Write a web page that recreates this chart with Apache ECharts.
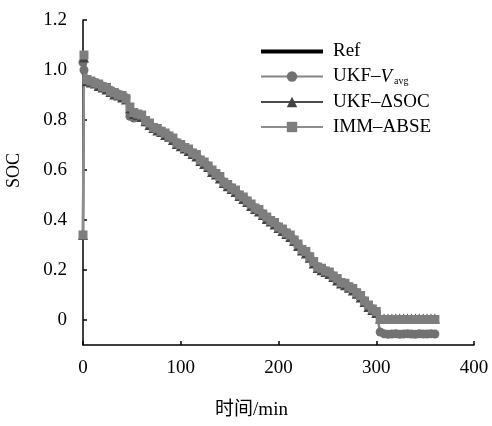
<!DOCTYPE html>
<html>
<head>
<meta charset="utf-8">
<script src="https://cdn.jsdelivr.net/npm/echarts@6/dist/echarts.min.js"></script>
<style>
  html, body { margin: 0; padding: 0; background: #fff; }
  #chart { width: 492px; height: 426px; }
</style>
</head>
<body>
<div id="chart"></div>
<script>
// Sample times (min)
const timeMin = [0, 1, 4, 8, 12, 16, 20, 24, 28, 32,
  36, 40, 44, 48, 52, 56, 60, 64, 68, 72,
  76, 80, 84, 88, 92, 96, 100, 104, 108, 112,
  116, 120, 124, 128, 132, 136, 140, 144, 148, 152,
  156, 160, 164, 168, 172, 176, 180, 184, 188, 192,
  196, 200, 204, 208, 212, 216, 220, 224, 228, 232,
  236, 240, 244, 248, 252, 256, 260, 264, 268, 272,
  276, 280, 284, 288, 292, 296, 300, 304, 308, 312,
  316, 320, 324, 328, 332, 336, 340, 344, 348, 352,
  356, 360];

// Reference SOC
const socRef = [0.99, 0.98, 0.958, 0.955, 0.950, 0.942, 0.935, 0.928, 0.918, 0.908,
  0.903, 0.896, 0.888, 0.850, 0.828, 0.826, 0.818, 0.800, 0.786, 0.772,
  0.764, 0.757, 0.746, 0.738, 0.726, 0.710, 0.700, 0.692, 0.682, 0.670,
  0.660, 0.642, 0.630, 0.618, 0.598, 0.588, 0.572, 0.553, 0.540, 0.530,
  0.518, 0.502, 0.490, 0.478, 0.462, 0.450, 0.440, 0.426, 0.410, 0.400,
  0.388, 0.374, 0.362, 0.350, 0.338, 0.322, 0.302, 0.284, 0.272, 0.255,
  0.232, 0.214, 0.205, 0.198, 0.190, 0.178, 0.164, 0.152, 0.145, 0.135,
  0.124, 0.111, 0.096, 0.078, 0.058, 0.046, 0.032, 0.004, 0.004, 0.004,
  0.004, 0.004, 0.004, 0.004, 0.004, 0.004, 0.004, 0.004, 0.004, 0.004,
  0.004, 0.004];

// UKF with average-voltage estimate
const socUkfVavg = [1.03, 1.00, 0.960, 0.953, 0.951, 0.940, 0.936, 0.926, 0.919, 0.906,
  0.904, 0.894, 0.889, 0.815, 0.808, 0.812, 0.816, 0.799, 0.784, 0.771,
  0.763, 0.756, 0.745, 0.737, 0.725, 0.709, 0.699, 0.691, 0.681, 0.669,
  0.659, 0.641, 0.629, 0.617, 0.597, 0.587, 0.571, 0.552, 0.539, 0.529,
  0.517, 0.501, 0.489, 0.477, 0.461, 0.449, 0.439, 0.425, 0.409, 0.399,
  0.387, 0.373, 0.361, 0.349, 0.337, 0.321, 0.301, 0.283, 0.271, 0.254,
  0.231, 0.213, 0.204, 0.197, 0.189, 0.177, 0.163, 0.151, 0.144, 0.134,
  0.123, 0.110, 0.095, 0.077, 0.057, 0.045, 0.031, -0.048, -0.055, -0.057,
  -0.056, -0.055, -0.057, -0.056, -0.055, -0.056, -0.057, -0.055, -0.056, -0.056,
  -0.055, -0.056];

// UKF with delta-SOC estimate
const socUkfDsoc = [0.34, 1.05, 0.955, 0.950, 0.946, 0.936, 0.930, 0.922, 0.912, 0.902,
  0.898, 0.890, 0.882, 0.846, 0.824, 0.820, 0.812, 0.795, 0.780, 0.768,
  0.758, 0.752, 0.740, 0.733, 0.720, 0.704, 0.695, 0.686, 0.676, 0.664,
  0.654, 0.636, 0.624, 0.612, 0.592, 0.582, 0.566, 0.548, 0.535, 0.524,
  0.512, 0.496, 0.484, 0.472, 0.456, 0.444, 0.434, 0.420, 0.404, 0.394,
  0.382, 0.368, 0.356, 0.344, 0.332, 0.316, 0.296, 0.278, 0.266, 0.249,
  0.226, 0.208, 0.199, 0.192, 0.184, 0.172, 0.158, 0.146, 0.139, 0.129,
  0.118, 0.105, 0.090, 0.072, 0.052, 0.040, 0.028, 0.006, 0.006, 0.006,
  0.006, 0.006, 0.006, 0.006, 0.006, 0.006, 0.006, 0.006, 0.006, 0.006,
  0.006, 0.006];

// IMM adaptive estimate
const socImmAbse = [0.34, 1.06, 0.962, 0.956, 0.948, 0.944, 0.933, 0.930, 0.915, 0.910,
  0.900, 0.898, 0.885, 0.852, 0.830, 0.824, 0.820, 0.798, 0.788, 0.770,
  0.766, 0.755, 0.748, 0.736, 0.728, 0.708, 0.702, 0.690, 0.684, 0.668,
  0.662, 0.640, 0.632, 0.616, 0.600, 0.586, 0.574, 0.551, 0.542, 0.528,
  0.520, 0.500, 0.492, 0.476, 0.464, 0.448, 0.442, 0.424, 0.412, 0.398,
  0.390, 0.372, 0.364, 0.348, 0.340, 0.320, 0.304, 0.282, 0.274, 0.253,
  0.234, 0.212, 0.207, 0.196, 0.192, 0.176, 0.166, 0.150, 0.147, 0.133,
  0.126, 0.109, 0.098, 0.076, 0.060, 0.044, 0.034, 0.002, 0.002, 0.002,
  0.002, 0.002, 0.002, 0.002, 0.002, 0.002, 0.002, 0.002, 0.002, 0.002,
  0.002, 0.002];

const seriesNames = ['Ref', 'UKF–Vavg', 'UKF–ΔSOC', 'IMM–ABSE'];
const yTickValues = [0, 0.2, 0.4, 0.6, 0.8, 1.0, 1.2];
const yTickLabels = ['0', '0.2', '0.4', '0.6', '0.8', '1.0', '1.2'];
const xTickLabels = ['0', '100', '200', '300', '400'];

const SERIF = '"Liberation Serif", "Times New Roman", "Noto Sans CJK SC", serif';

// plain thick bar used as the legend key of the reference curve
const REF_KEY = 'path://M0,0M0,13M0,4.5H62V8.5H0Z';

function pairs(vals) {
  return timeMin.map((t, i) => [t, vals[i]]);
}

const chart = echarts.init(document.getElementById('chart'), null, { renderer: 'canvas' });

chart.setOption({
  backgroundColor: '#ffffff',
  animation: false,
  grid: { left: 83, right: 18, top: 20, bottom: 81, outerBoundsMode: 'none' },
  legend: {
    orient: 'vertical',
    left: 255,
    top: 37,
    itemWidth: 62,
    itemHeight: 13,
    itemGap: 6,
    data: [
      { name: seriesNames[0], icon: REF_KEY },
      seriesNames[1],
      seriesNames[2],
      seriesNames[3]
    ],
    textStyle: {
      fontFamily: SERIF,
      fontSize: 19,
      color: '#000',
      padding: [0, 0, 0, 5],
      rich: {
        n: { fontFamily: SERIF, fontSize: 19, color: '#000' },
        i: { fontFamily: SERIF, fontSize: 19, fontStyle: 'italic', color: '#000' },
        s: { fontFamily: SERIF, fontSize: 10, color: '#000', padding: [10, 0, 0, 2] }
      }
    },
    formatter: function (name) {
      if (name === seriesNames[1]) return '{n|UKF–}{i|V}{s|avg}';
      return name;
    }
  },
  xAxis: {
    type: 'value',
    min: 0,
    max: 400,
    interval: 100,
    name: '时间/min',
    nameLocation: 'middle',
    nameGap: 56,
    nameTextStyle: { fontFamily: SERIF, fontSize: 19, color: '#000', padding: [0, 54, 0, 0] },
    axisLine: { show: true, onZero: false, lineStyle: { color: '#000', width: 1.5 } },
    axisTick: { show: true, inside: true, length: 4, lineStyle: { color: '#000', width: 1.5 } },
    axisLabel: {
      margin: 14,
      fontFamily: SERIF,
      fontSize: 19,
      color: '#000',
      formatter: function (v) { return xTickLabels[Math.round(v / 100)]; }
    },
    splitLine: { show: false }
  },
  yAxis: {
    type: 'value',
    min: -0.1,
    max: 1.2,
    name: 'SOC',
    nameLocation: 'middle',
    nameGap: 60,
    nameTextStyle: { fontFamily: SERIF, fontSize: 18, color: '#000', padding: [0, 0, 0, 24] },
    axisLine: { show: true, onZero: false, lineStyle: { color: '#000', width: 1.5 } },
    axisTick: { show: true, inside: true, length: 4, customValues: yTickValues, lineStyle: { color: '#000', width: 1.5 } },
    axisLabel: {
      margin: 16,
      fontFamily: SERIF,
      fontSize: 19,
      color: '#000',
      padding: [9, 0, 0, 0],
      customValues: yTickValues,
      formatter: function (v) {
        const i = yTickValues.findIndex(t => Math.abs(t - v) < 1e-6);
        return i >= 0 ? yTickLabels[i] : '';
      }
    },
    splitLine: { show: false }
  },
  series: [
    {
      name: seriesNames[0],
      type: 'line',
      data: pairs(socRef),
      symbol: 'none',
      clip: false,
      lineStyle: { color: '#000', width: 3.5 },
      itemStyle: { color: '#000' }
    },
    {
      name: seriesNames[1],
      type: 'line',
      data: pairs(socUkfVavg),
      symbol: 'circle',
      symbolSize: 9,
      showAllSymbol: true,
      clip: false,
      lineStyle: { color: '#858585', width: 2.5 },
      itemStyle: { color: '#717171' }
    },
    {
      name: seriesNames[2],
      type: 'line',
      data: pairs(socUkfDsoc),
      symbol: 'triangle',
      symbolSize: 10,
      showAllSymbol: true,
      clip: false,
      lineStyle: { color: '#4a4a4a', width: 2.5 },
      itemStyle: { color: '#444444' }
    },
    {
      name: seriesNames[3],
      type: 'line',
      data: pairs(socImmAbse),
      symbol: 'rect',
      symbolSize: 9,
      showAllSymbol: true,
      clip: false,
      lineStyle: { color: '#8e8e8e', width: 2.5 },
      itemStyle: { color: '#7e7e7e' }
    }
  ]
});
</script>
</body>
</html>
